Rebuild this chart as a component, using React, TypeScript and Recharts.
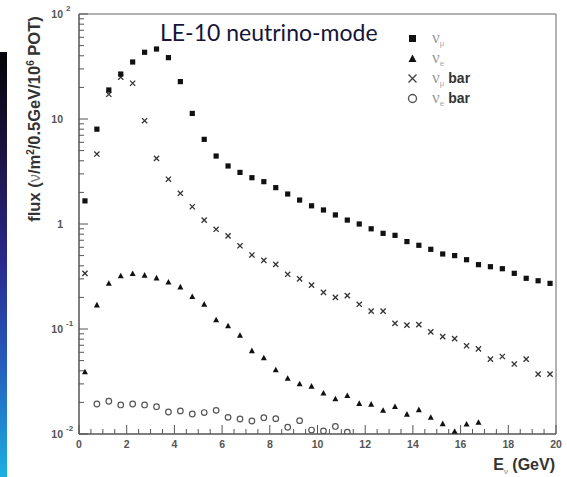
import { ScatterChart, Scatter, XAxis, YAxis, ReferenceLine } from 'recharts';

// bin centres, 0.5 GeV bins
const ENERGY = [
  0.25, 0.75, 1.25, 1.75, 2.25, 2.75, 3.25, 3.75, 4.25, 4.75,
  5.25, 5.75, 6.25, 6.75, 7.25, 7.75, 8.25, 8.75, 9.25, 9.75,
  10.25, 10.75, 11.25, 11.75, 12.25, 12.75, 13.25, 13.75, 14.25, 14.75,
  15.25, 15.75, 16.25, 16.75, 17.25, 17.75, 18.25, 18.75, 19.25, 19.75,
];

const NUMU = [
  1.66, 8.0, 18.9, 26.8, 34.9, 43.2, 46.4, 38.4, 22.7, 11.3,
  6.4, 4.44, 3.57, 3.1, 2.76, 2.53, 2.22, 1.93, 1.69, 1.49,
  1.36, 1.22, 1.09, 1.0, 0.9, 0.815, 0.78, 0.68, 0.627, 0.574,
  0.518, 0.5, 0.457, 0.41, 0.392, 0.375, 0.339, 0.304, 0.288, 0.272,
];

const NUE = [
  0.039, 0.169, 0.272, 0.32, 0.337, 0.325, 0.306, 0.279, 0.251, 0.203,
  0.172, 0.122, 0.107, 0.087, 0.062, 0.053, 0.0408, 0.0339, 0.03, 0.0285,
  0.0245, 0.0216, 0.0232, 0.0195, 0.0192, 0.0168, 0.0182, 0.0154, 0.017, 0.0144,
  0.0125, 0.0106, 0.0124, 0.0129, null, null, null, null, null, null,
];

const NUMU_BAR = [
  0.339, 4.64, 17.2, 25.0, 21.9, 9.63, 4.22, 2.67, 1.96, 1.46,
  1.09, 0.89, 0.77, 0.62, 0.507, 0.45, 0.413, 0.332, 0.3, 0.262,
  0.223, 0.2, 0.208, 0.172, 0.148, 0.148, 0.113, 0.109, 0.11, 0.094,
  0.0846, 0.081, 0.0692, 0.0646, 0.0516, 0.0547, 0.0464, 0.0516, 0.0372, 0.0372,
];

const NUE_BAR = [
  null, 0.0193, 0.0205, 0.0189, 0.0193, 0.0189, 0.0182, 0.0162, 0.0166, 0.0155,
  0.016, 0.0168, 0.0144, 0.0139, 0.0133, 0.0143, 0.014, 0.0116, 0.0134, 0.0109,
  0.0107, 0.0118, 0.0104, null, null, null, null, null, null, null,
  null, null, null, null, null, null, null, null, null, null,
];

const Y_MAJOR = [0.01, 0.1, 1, 10, 100];
const Y_LABELS = [
  { base: '10', exp: '-2' },
  { base: '10', exp: '-1' },
  { base: '1', exp: '' },
  { base: '10', exp: '' },
  { base: '10', exp: '2' },
];
const X_MAJOR = [0, 2, 4, 6, 8, 10, 12, 14, 16, 18, 20];

// minor ticks: 2..9 inside each decade, and every 0.5 GeV
const Y_TICKS: number[] = [];
[0.01, 0.1, 1, 10].forEach((d) => {
  [1, 2, 3, 4, 5, 6, 7, 8, 9].forEach((m) => Y_TICKS.push(+(d * m).toPrecision(3)));
});
Y_TICKS.push(100);
const X_TICKS: number[] = [];
for (let i = 0; i <= 40; i++) X_TICKS.push(i / 2);

const toPoints = (vals: (number | null)[]) =>
  ENERGY.map((x, i) => ({ x, y: vals[i] })).filter((p) => p.y != null);

const FONT = '"Liberation Sans", Arial, sans-serif';
const AXIS = '#555';

const YTick = ({ x, y, payload }: any) => {
  const idx = Y_MAJOR.indexOf(payload.value);
  const major = idx >= 0;
  const lab = major ? Y_LABELS[idx] : null;
  return (
    <g>
      <line x1={x} x2={x + (major ? 9 : 5)} y1={y} y2={y} stroke={AXIS} strokeWidth={1} />
      {lab && (
        <text x={x - 16} y={y + 4} textAnchor="end" fontSize={10.5} fontFamily={FONT} fontWeight="bold" fill="#555">
          {lab.base}
        </text>
      )}
      {lab && lab.exp && (
        <text x={x - 13} y={y - 3} textAnchor="start" fontSize={8} fontFamily={FONT} fontWeight="bold" fill="#555">
          {lab.exp}
        </text>
      )}
    </g>
  );
};

const XTick = ({ x, y, payload }: any) => {
  const major = X_MAJOR.includes(payload.value);
  return (
    <g>
      <line x1={x} x2={x} y1={y} y2={y - (major ? 9 : 5)} stroke={AXIS} strokeWidth={1} />
      {major && (
        <text x={x} y={y + 14} textAnchor="middle" fontSize={10.5} fontFamily={FONT} fontWeight="bold" fill="#555">
          {payload.value}
        </text>
      )}
    </g>
  );
};

const Square = ({ cx, cy }: any) => <rect x={cx - 2.6} y={cy - 2.6} width={5.2} height={5.2} fill="#111" />;
const Triangle = ({ cx, cy }: any) => (
  <polygon points={`${cx},${cy - 3.2} ${cx + 3},${cy + 2.4} ${cx - 3},${cy + 2.4}`} fill="#111" />
);
const Cross = ({ cx, cy }: any) => (
  <path
    d={`M${cx - 2.6},${cy - 2.6}L${cx + 2.6},${cy + 2.6}M${cx + 2.6},${cy - 2.6}L${cx - 2.6},${cy + 2.6}`}
    stroke="#333"
    strokeWidth={1.3}
  />
);
const Ring = ({ cx, cy }: any) => <circle cx={cx} cy={cy} r={2.8} fill="none" stroke="#555" strokeWidth={1.2} />;

const LEGEND = [
  { sub: 'μ', bar: false, mark: 'square' },
  { sub: 'e', bar: false, mark: 'triangle' },
  { sub: 'μ', bar: true, mark: 'cross' },
  { sub: 'e', bar: true, mark: 'ring' },
];

function LegendMark({ mark }: { mark: string }) {
  if (mark === 'square') return <rect x={3} y={3} width={7} height={7} fill="#111" />;
  if (mark === 'triangle') return <polygon points="6.5,2.5 10.5,10 2.5,10" fill="#111" />;
  if (mark === 'cross') return <path d="M2.5,2.5L10.5,10.5M10.5,2.5L2.5,10.5" stroke="#444" strokeWidth={1.4} />;
  return <circle cx={6.5} cy={6.5} r={4} fill="none" stroke="#555" strokeWidth={1.4} />;
}

export default function App() {
  return (
    <div style={{ position: 'fixed', left: 0, top: 0, width: 567, height: 477, background: '#fff', overflow: 'hidden' }}>
      <div
        style={{
          position: 'absolute',
          left: 0,
          top: 52,
          width: 7,
          height: 425,
          background: 'linear-gradient(to bottom, #050308 0%, #1c1446 25%, #2a2a8e 50%, #2460c0 75%, #1cb0e0 100%)',
        }}
      />
      <ScatterChart width={567} height={477} margin={{ top: 14, right: 11, bottom: 13, left: 19 }}>
        <XAxis
          type="number"
          dataKey="x"
          domain={[0, 20]}
          ticks={X_TICKS}
          interval={0}
          tick={<XTick />}
          tickLine={false}
          tickSize={0}
          tickMargin={0}
          height={30}
          axisLine={{ stroke: AXIS, strokeWidth: 1.5 }}
          allowDataOverflow
        />
        <YAxis
          type="number"
          dataKey="y"
          scale="log"
          domain={[0.01, 100]}
          ticks={Y_TICKS}
          interval={0}
          tick={<YTick />}
          tickLine={false}
          tickSize={0}
          tickMargin={0}
          width={60}
          axisLine={{ stroke: AXIS, strokeWidth: 1.5 }}
          allowDataOverflow
        />
        <ReferenceLine y={100} stroke="#999" strokeWidth={1.5} />
        <ReferenceLine x={20} stroke="#999" strokeWidth={1.5} />
        <Scatter data={toPoints(NUE_BAR)} shape={<Ring />} isAnimationActive={false} />
        <Scatter data={toPoints(NUE)} shape={<Triangle />} isAnimationActive={false} />
        <Scatter data={toPoints(NUMU_BAR)} shape={<Cross />} isAnimationActive={false} />
        <Scatter data={toPoints(NUMU)} shape={<Square />} isAnimationActive={false} />
      </ScatterChart>

      <svg style={{ position: 'absolute', left: 0, top: 0 }} width={567} height={477}>
        <text x={160} y={41} fontSize={23} fontFamily="Lato, sans-serif" fill="#15153a">
          LE-10 neutrino-mode
        </text>
        <text
          transform="translate(40,119) rotate(-90)"
          textAnchor="middle"
          fontSize={16.5}
          fontFamily={FONT}
          fontWeight="bold"
          fill="#333"
        >
          flux (
          <tspan fontWeight="normal" fill="#777">ν</tspan>/m
          <tspan fontSize={10} dy={-6}>2</tspan>
          <tspan dy={6}>/0.5GeV/10</tspan>
          <tspan fontSize={10} dy={-6}>6</tspan>
          <tspan dy={6}> POT)</tspan>
        </text>
        <text x={555} y={470} textAnchor="end" fontSize={16} fontFamily={FONT} fontWeight="bold" fill="#333">
          E<tspan fontSize={8} dy={4} fontWeight="normal" fill="#777">ν</tspan>
          <tspan dy={-4}> (GeV)</tspan>
        </text>
      </svg>

      <div style={{ position: 'absolute', left: 406, top: 28 }}>
        {LEGEND.map((l, i) => (
          <div key={i} style={{ display: 'flex', alignItems: 'center', height: 20 }}>
            <svg width={13} height={13}>
              <LegendMark mark={l.mark} />
            </svg>
            <span style={{ marginLeft: 13, fontFamily: '"Liberation Serif", serif', fontSize: 17, color: '#999', lineHeight: '20px' }}>
              ν
            </span>
            <span style={{ fontFamily: FONT, fontSize: 8, color: '#aaa', position: 'relative', top: 5 }}>{l.sub}</span>
            {l.bar && (
              <span style={{ marginLeft: 4, fontFamily: FONT, fontSize: 14, fontWeight: 'bold', color: '#333' }}>bar</span>
            )}
          </div>
        ))}
      </div>
    </div>
  );
}
